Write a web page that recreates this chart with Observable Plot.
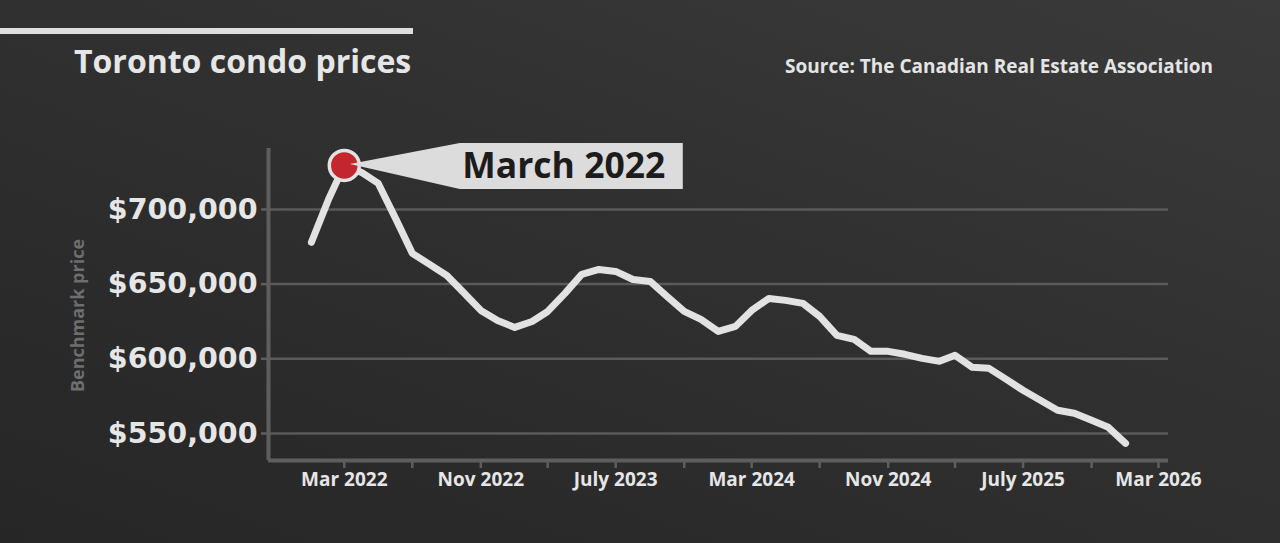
<!DOCTYPE html>
<html>
<head>
<meta charset="utf-8">
<script src="https://cdn.jsdelivr.net/npm/d3@7"></script>
<script src="https://cdn.jsdelivr.net/npm/@observablehq/plot@0.6"></script>
<style>
  html, body { margin: 0; padding: 0; }
  body {
    width: 1280px; height: 543px; overflow: hidden; position: relative;
    background: linear-gradient(200deg, #3a3a3a 0%, #303030 45%, #262626 100%);
    font-family: "Open Sans", "Noto Sans", sans-serif;
  }
  #topbar { position: absolute; left: 0; top: 28px; width: 413px; height: 6px; background: #dedede; }
  #title { position: absolute; left: 74px; top: 39px; font-size: 32px; line-height: 44px; font-weight: 700; color: #e6e6e6; white-space: nowrap; }
  #source { position: absolute; right: 67px; top: 53px; font-size: 19px; line-height: 26px; font-weight: 700; color: #e4e4e4; white-space: nowrap; }
  #chart { position: absolute; left: 0; top: 0; }
</style>
</head>
<body>
<div id="topbar"></div>
<div id="title">Toronto condo prices</div>
<div id="source">Source: The Canadian Real Estate Association</div>
<div id="chart"></div>
<script>
// Monthly benchmark price, Jan 2022 – Jan 2026
const months = [
  "2022-01","2022-02","2022-03","2022-04","2022-05","2022-06","2022-07","2022-08","2022-09","2022-10","2022-11","2022-12",
  "2023-01","2023-02","2023-03","2023-04","2023-05","2023-06","2023-07","2023-08","2023-09","2023-10","2023-11","2023-12",
  "2024-01","2024-02","2024-03","2024-04","2024-05","2024-06","2024-07","2024-08","2024-09","2024-10","2024-11","2024-12",
  "2025-01","2025-02","2025-03","2025-04","2025-05","2025-06","2025-07","2025-08","2025-09","2025-10","2025-11","2025-12",
  "2026-01"
];
const prices = [
  678000, 707000, 729500, 724800, 717400, 694000, 670600, 663200, 655800, 644400, 632400, 625700,
  621000, 625000, 631700, 643800, 656500, 659800, 658500, 653100, 651800, 641800, 631700, 626400,
  618300, 621700, 632400, 640400, 639100, 637100, 628400, 615700, 613000, 605000, 605000, 603000,
  600300, 598300, 602300, 594300, 593600, 586200, 578900, 572200, 565500, 563500, 558800, 554100,
  543400
];
const yTicks = [550000, 600000, 650000, 700000];
const xTickMonths = ["2022-03","2022-07","2022-11","2023-03","2023-07","2023-11","2024-03","2024-07","2024-11","2025-03","2025-07","2025-11","2026-03"];
const xLabelMonths = ["2022-03","2022-11","2023-07","2024-03","2024-11","2025-07","2026-03"];
const xLabels = ["Mar 2022","Nov 2022","July 2023","Mar 2024","Nov 2024","July 2025","Mar 2026"];
const yLabel = "Benchmark price";
const calloutMonth = "2022-03";
const calloutText = "March 2022";

const parse = d3.utcParse("%Y-%m");
const data = months.map((m, i) => ({date: parse(m), price: prices[i]}));
const peak = data.find(d => +d.date === +parse(calloutMonth));
const labelMap = new Map(xLabelMonths.map((m, i) => [+parse(m), xLabels[i]]));
const xDomain = [new Date(Date.UTC(2021, 9, 16)), new Date(Date.UTC(2026, 2, 19))];
const yDomain = [531900, 740800];

const callout = (index, scales, values, dimensions, context) => {
  const x0 = scales.x(peak.date), y0 = scales.y(peak.price);
  const g = d3.create("svg:g");
  g.append("path")
    .attr("d", `M${x0 + 6},${y0 - 1} L${x0 + 116},${y0 - 22} L${x0 + 339},${y0 - 22} L${x0 + 339},${y0 + 24} L${x0 + 116},${y0 + 24} Z`)
    .attr("fill", "#dcdcdc");
  return g.node();
};

const plot = Plot.plot({
  width: 1280,
  height: 543,
  marginLeft: 268,
  marginRight: 112,
  marginTop: 148,
  marginBottom: 83,
  style: {background: "transparent", color: "#e4e4e4", fontFamily: "'Open Sans', 'Noto Sans', sans-serif", overflow: "visible"},
  x: {type: "utc", domain: xDomain},
  y: {domain: yDomain},
  marks: [
    Plot.ruleY(yTicks, {stroke: "#5a5a5a", strokeWidth: 2.5}),
    Plot.ruleX([xDomain[0]], {stroke: "#5e5e5e", strokeWidth: 4}),
    Plot.ruleY([yDomain[0]], {stroke: "#5e5e5e", strokeWidth: 4}),
    Plot.axisY({ticks: yTicks, tickFormat: d3.format("$,"), tickSize: 7, tickPadding: 4, stroke: "#5e5e5e", strokeWidth: 2.5,
      fill: "#e6e6e6", fontSize: 28.5, fontWeight: "bold", fontFamily: "'DejaVu Sans', sans-serif", label: null}),
    Plot.axisX({ticks: xTickMonths.map(parse), tickFormat: d => labelMap.get(+d) ?? "", tickSize: 8, tickPadding: 4,
      stroke: "#5e5e5e", strokeWidth: 2.5, fill: "#e6e6e6", fontSize: 19, fontWeight: "bold", label: null}),
    Plot.text([yLabel], {frameAnchor: "left", textAnchor: "middle", dx: -190, dy: 11, rotate: -90, fill: "#6e6e6e", fontSize: 18, fontWeight: "bold"}),
    Plot.line(data, {x: "date", y: "price", stroke: "#e2e2e2", strokeWidth: 7, strokeLinejoin: "round", strokeLinecap: "round"}),
    Plot.dot([peak], {x: "date", y: "price", r: 15, fill: "#c4262e", stroke: "#e2e2e2", strokeWidth: 3.5}),
    callout,
    Plot.text([peak], {x: "date", y: "price", text: () => calloutText, dx: 118, dy: 1, textAnchor: "start", fill: "#1c1c1c", fontSize: 35.5, fontWeight: "bold", letterSpacing: 0.8})
  ]
});
document.getElementById("chart").appendChild(plot);
</script>
</body>
</html>
